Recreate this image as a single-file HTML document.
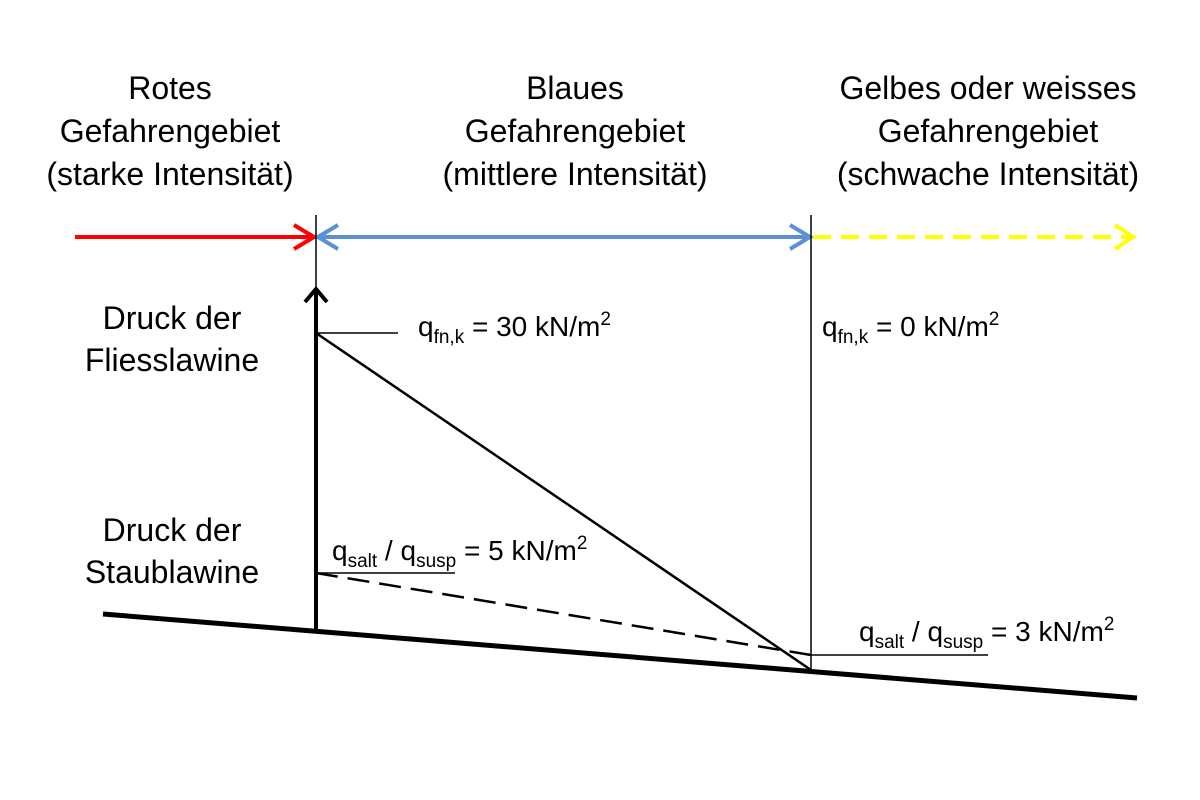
<!DOCTYPE html>
<html><head><meta charset="utf-8"><style>body{margin:0;background:#fff}svg{display:block}text{font-family:"Liberation Sans",sans-serif;font-size:28px;fill:#000}.big text{font-size:32px}</style></head><body>
<svg width="1200" height="800" viewBox="0 0 1200 800">
<g text-anchor="middle" class="big">
<text x="170" y="99">Rotes</text><text x="170" y="142">Gefahrengebiet</text><text x="170" y="185">(starke Intensität)</text>
<text x="575" y="99">Blaues</text><text x="575" y="142">Gefahrengebiet</text><text x="575" y="185">(mittlere Intensität)</text>
<text x="988" y="99">Gelbes oder weisses</text><text x="988" y="142">Gefahrengebiet</text><text x="988" y="185">(schwache Intensität)</text>
<text x="172" y="329">Druck der</text><text x="172" y="371">Fliesslawine</text>
<text x="172" y="541">Druck der</text><text x="172" y="583">Staublawine</text>
</g>
<line x1="75" y1="237" x2="312" y2="237" stroke="#ff0000" stroke-width="4"/>
<polyline points="294,225 314,237 294,249" fill="none" stroke="#ff0000" stroke-width="4"/>
<line x1="320" y1="237" x2="808" y2="237" stroke="#5b8fd6" stroke-width="4"/>
<polyline points="338,225 318,237 338,249" fill="none" stroke="#5b8fd6" stroke-width="4"/>
<polyline points="790,225 810,237 790,249" fill="none" stroke="#5b8fd6" stroke-width="4"/>
<line x1="813" y1="237" x2="1130" y2="237" stroke="#ffff00" stroke-width="4" stroke-dasharray="18,10"/>
<polyline points="1115,225 1133,237 1115,249" fill="none" stroke="#ffff00" stroke-width="4"/>
<line x1="316" y1="215" x2="316" y2="290" stroke="#000" stroke-width="1.5"/>
<line x1="811" y1="215" x2="811" y2="670" stroke="#000" stroke-width="1.5"/>
<line x1="316" y1="632" x2="316" y2="290" stroke="#000" stroke-width="4"/>
<polyline points="305,302 316,289 327,302" fill="none" stroke="#000" stroke-width="4"/>
<line x1="103" y1="614" x2="1137" y2="698" stroke="#000" stroke-width="5"/>
<line x1="316" y1="333" x2="398" y2="333" stroke="#000" stroke-width="1.5"/>
<line x1="316" y1="333" x2="811" y2="670" stroke="#000" stroke-width="2.5"/>
<line x1="316" y1="573" x2="811" y2="655" stroke="#000" stroke-width="2.5" stroke-dasharray="22,10"/>
<line x1="316" y1="573" x2="455" y2="573" stroke="#000" stroke-width="1.5"/>
<line x1="811" y1="655" x2="988" y2="655" stroke="#000" stroke-width="1.5"/>
<text x="418" y="336">q<tspan font-size="19" dy="7">fn,k</tspan><tspan dy="-7"> = 30 kN/m</tspan><tspan font-size="19" dy="-11">2</tspan></text>
<text x="822" y="336">q<tspan font-size="19" dy="7">fn,k</tspan><tspan dy="-7"> = 0 kN/m</tspan><tspan font-size="19" dy="-11">2</tspan></text>
<text x="332" y="560">q<tspan font-size="19" dy="7">salt</tspan><tspan dy="-7"> / q</tspan><tspan font-size="19" dy="7">susp</tspan><tspan dy="-7"> = 5 kN/m</tspan><tspan font-size="19" dy="-11">2</tspan></text>
<text x="859" y="641">q<tspan font-size="19" dy="7">salt</tspan><tspan dy="-7"> / q</tspan><tspan font-size="19" dy="7">susp</tspan><tspan dy="-7"> = 3 kN/m</tspan><tspan font-size="19" dy="-11">2</tspan></text>
</svg>
</body></html>
